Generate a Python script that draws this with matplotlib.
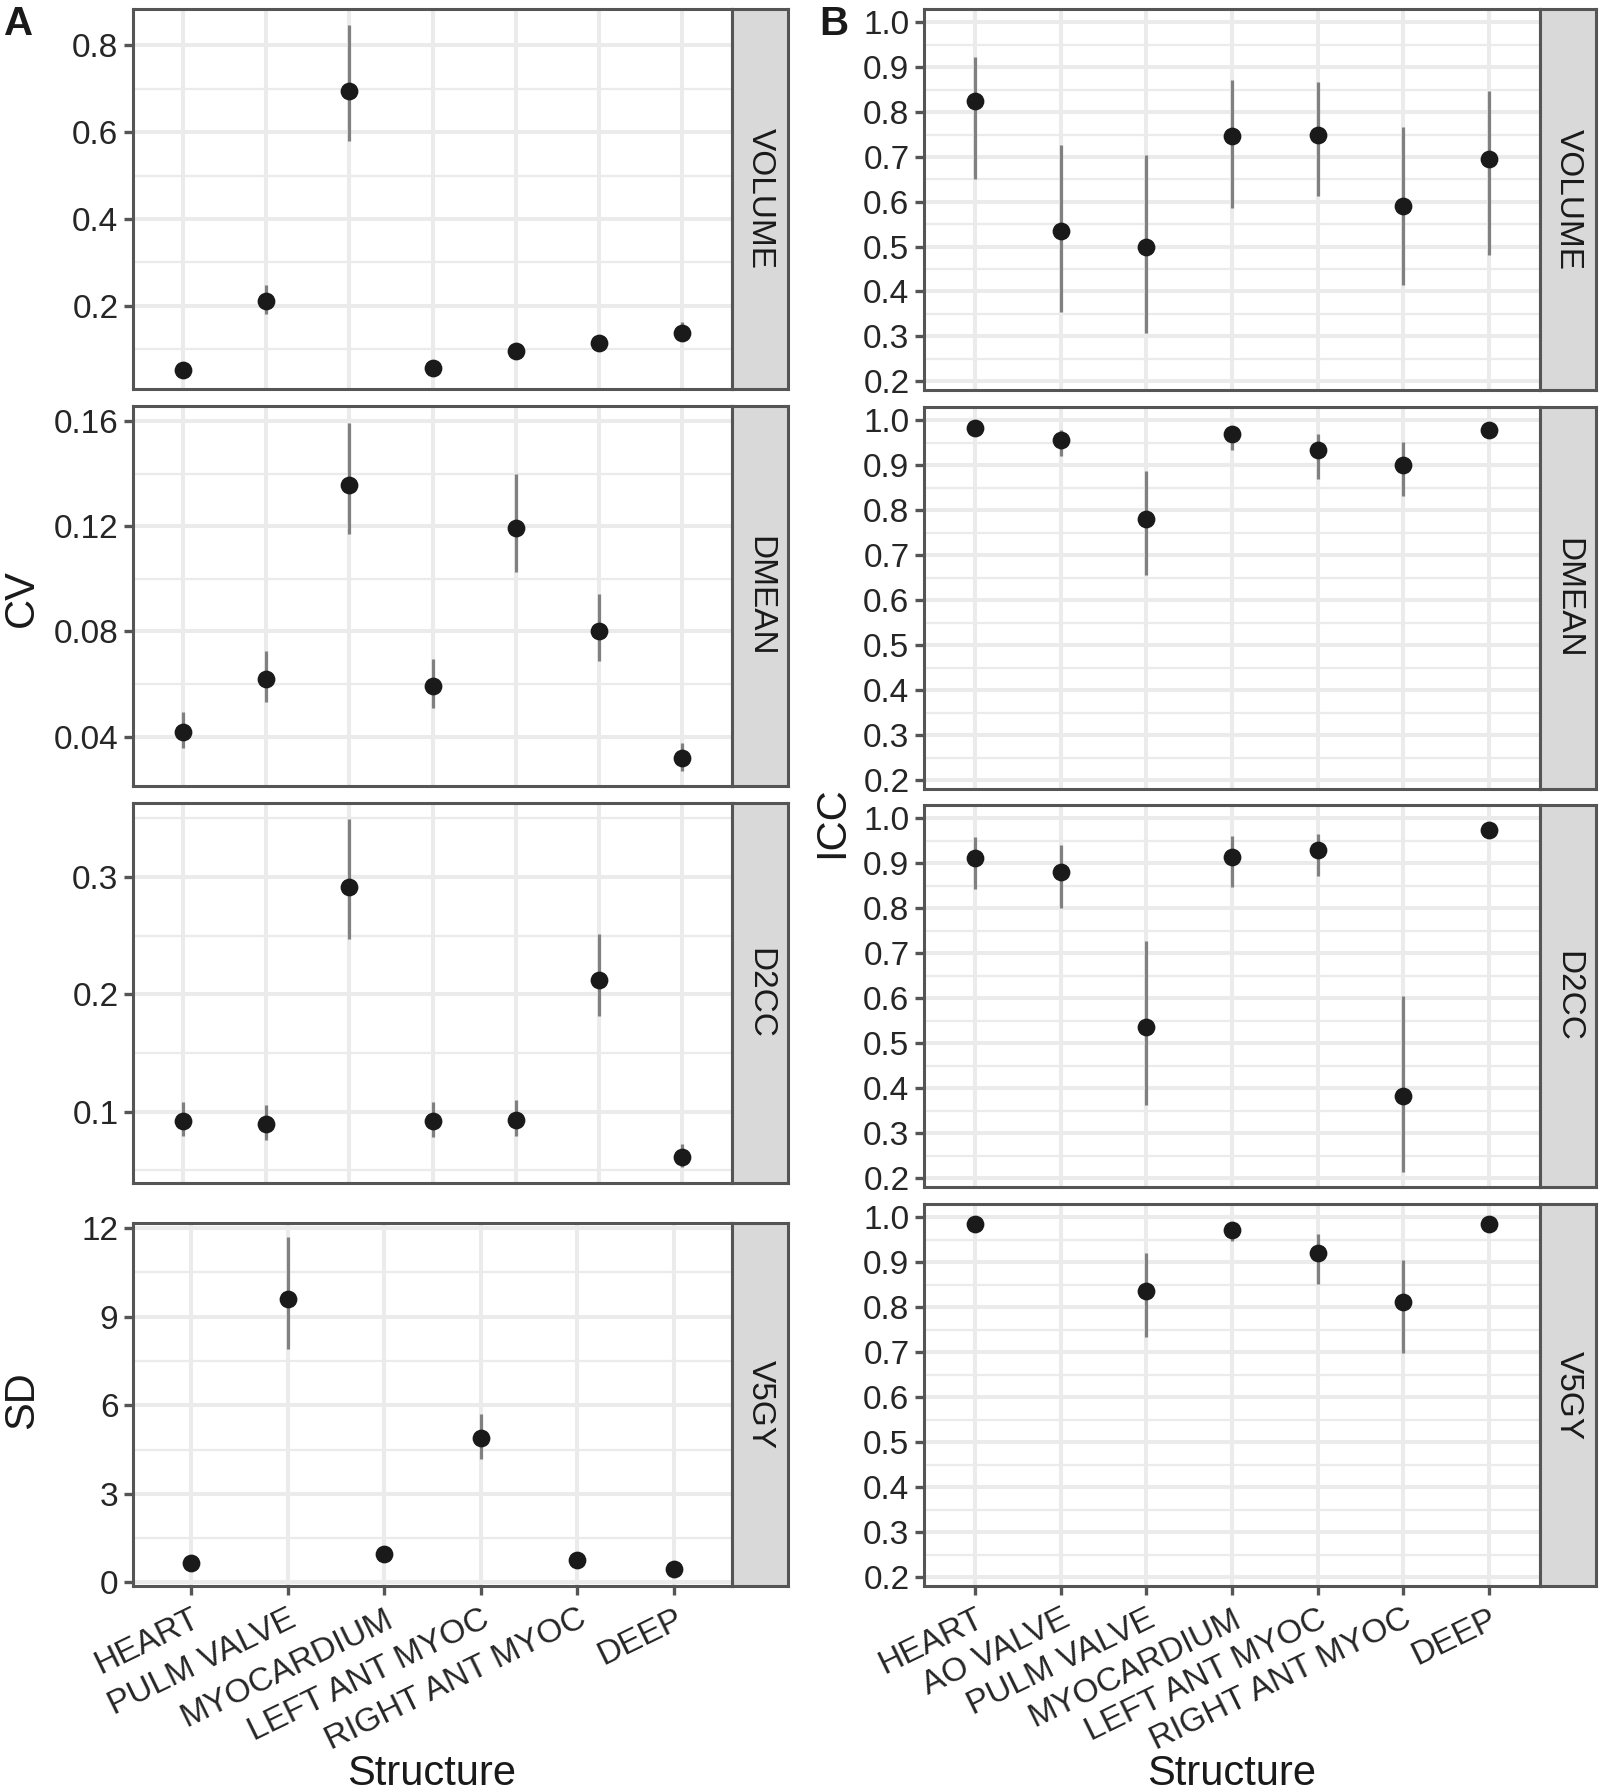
import numpy as np
import matplotlib.pyplot as plt
from matplotlib.ticker import FixedLocator

plt.rcParams['font.family'] = ['Liberation Sans', 'DejaVu Sans']

# ---- data ----
structures = ["HEART", "AO VALVE", "PULM VALVE", "MYOCARDIUM",
              "LEFT ANT MYOC", "RIGHT ANT MYOC", "DEEP"]
structures_sd = ["HEART", "PULM VALVE", "MYOCARDIUM",
                 "LEFT ANT MYOC", "RIGHT ANT MYOC", "DEEP"]
metrics = ["VOLUME", "DMEAN", "D2CC", "V5GY"]

# panel A: CV (VOLUME, DMEAN, D2CC) over 7 structures
cv_volume = [0.052, 0.212, 0.694, 0.056, 0.096, 0.113, 0.138]
cv_volume_lo = [0.047, 0.181, 0.580, 0.050, 0.088, 0.104, 0.120]
cv_volume_hi = [0.057, 0.248, 0.848, 0.063, 0.105, 0.124, 0.163]

cv_dmean = [0.0418, 0.0617, 0.1355, 0.0593, 0.1192, 0.0801, 0.0317]
cv_dmean_lo = [0.0358, 0.0530, 0.1171, 0.0507, 0.1025, 0.0686, 0.0270]
cv_dmean_hi = [0.0493, 0.0726, 0.1594, 0.0695, 0.1399, 0.0942, 0.0375]

cv_d2cc = [0.0923, 0.0895, 0.2915, 0.0918, 0.0932, 0.2119, 0.0614]
cv_d2cc_lo = [0.079, 0.076, 0.247, 0.078, 0.0795, 0.1813, 0.0526]
cv_d2cc_hi = [0.108, 0.106, 0.349, 0.108, 0.110, 0.2514, 0.0727]

# panel A: SD for V5GY over 6 structures
sd_v5gy = [0.65, 9.60, 0.96, 4.88, 0.77, 0.46]
sd_v5gy_lo = [0.55, 7.92, 0.85, 4.17, 0.66, 0.38]
sd_v5gy_hi = [0.75, 11.68, 1.07, 5.71, 0.88, 0.55]

# panel B: ICC over 7 structures
icc_volume = [0.825, 0.535, 0.500, 0.747, 0.749, 0.590, 0.695]
icc_volume_lo = [0.651, 0.353, 0.308, 0.587, 0.612, 0.414, 0.481]
icc_volume_hi = [0.922, 0.727, 0.705, 0.872, 0.868, 0.767, 0.848]

icc_dmean = [0.983, 0.956, 0.781, 0.969, 0.934, 0.901, 0.978]
icc_dmean_lo = [0.975, 0.922, 0.656, 0.934, 0.870, 0.831, 0.970]
icc_dmean_hi = [0.990, 0.978, 0.888, 0.986, 0.971, 0.952, 0.985]

icc_d2cc = [0.912, 0.880, 0.536, 0.914, 0.929, 0.383, 0.975]
icc_d2cc_lo = [0.844, 0.800, 0.363, 0.848, 0.871, 0.214, 0.965]
icc_d2cc_hi = [0.958, 0.941, 0.727, 0.961, 0.965, 0.605, 0.985]

icc_v5gy = [0.986, np.nan, 0.837, 0.972, 0.920, 0.811, 0.985]
icc_v5gy_lo = [0.980, np.nan, 0.734, 0.948, 0.853, 0.699, 0.978]
icc_v5gy_hi = [0.992, np.nan, 0.920, 0.985, 0.963, 0.906, 0.991]

# ---- styling ----
W, H = 1600, 1792
BORDER = '#555555'
GRID = '#EBEBEB'
TXT = '#262626'

fig = plt.figure(figsize=(W / 100, H / 100), dpi=100)
fig.patch.set_facecolor('white')


def box(x0, y0, x1, y1):
    return [x0 / W, 1 - y1 / H, (x1 - x0) / W, (y1 - y0) / H]


def panel(px, py, cats, est, lo, hi, ylim, major, minor, fmt,
          strip, show_x):
    ax = fig.add_axes(box(px[0], py[0], px[1], py[1]))
    x = np.arange(1, len(cats) + 1)
    ax.vlines(x, lo, hi, color='#808080', lw=2.3, zorder=3)
    ax.plot(x, est, 'o', color='#1a1a1a', ms=12.8, mew=0, zorder=4)
    ax.set_xlim(0.4, len(cats) + 0.6)
    ax.set_ylim(*ylim)
    ax.yaxis.set_major_locator(FixedLocator(major))
    ax.yaxis.set_minor_locator(FixedLocator(minor))
    ax.set_yticklabels([fmt.format(v) for v in major])
    ax.set_xticks(x)
    ax.set_axisbelow(True)
    ax.grid(which='major', color=GRID, lw=2.9)
    ax.grid(which='minor', axis='y', color=GRID, lw=1.6)
    for s in ax.spines.values():
        s.set_color(BORDER)
        s.set_linewidth(2.2)
    ax.tick_params(axis='y', which='major', length=6.5, width=2.4,
                   color=BORDER, labelsize=24, labelcolor=TXT, pad=4)
    ax.tick_params(axis='y', which='minor', length=0)
    if show_x:
        ax.set_xticklabels(cats, rotation=26, ha='right', va='top',
                           rotation_mode='anchor')
        ax.tick_params(axis='x', length=6.5, width=2.4, color=BORDER,
                       labelsize=24, labelcolor=TXT, pad=6)
    else:
        ax.tick_params(axis='x', length=0, labelbottom=False)
    # facet strip on the right
    sx = fig.add_axes(box(px[1], py[0], px[1] + 56, py[1]))
    sx.set_facecolor('#D9D9D9')
    sx.set_xticks([])
    sx.set_yticks([])
    for s in sx.spines.values():
        s.set_color(BORDER)
        s.set_linewidth(2.2)
    sx.text(0.5, 0.5, strip, rotation=-90, ha='center', va='center',
            fontsize=24, color='#1a1a1a', transform=sx.transAxes)
    return ax


# ---- panel A ----
ax_l = (133, 732)
rows_l = [(9, 389), (406, 786), (803, 1183), (1223, 1586)]
panel(ax_l, rows_l[0], structures, cv_volume, cv_volume_lo, cv_volume_hi,
      (0.008, 0.884), [0.2, 0.4, 0.6, 0.8], [0.1, 0.3, 0.5, 0.7],
      '{:.1f}', metrics[0], False)
panel(ax_l, rows_l[1], structures, cv_dmean, cv_dmean_lo, cv_dmean_hi,
      (0.0212, 0.1657), [0.04, 0.08, 0.12, 0.16], [0.06, 0.10, 0.14],
      '{:.2f}', metrics[1], False)
panel(ax_l, rows_l[2], structures, cv_d2cc, cv_d2cc_lo, cv_d2cc_hi,
      (0.0392, 0.363), [0.1, 0.2, 0.3], [0.05, 0.15, 0.25, 0.35],
      '{:.1f}', metrics[2], False)
panel(ax_l, rows_l[3], structures_sd, sd_v5gy, sd_v5gy_lo, sd_v5gy_hi,
      (-0.12, 12.17), [0, 3, 6, 9, 12], [1.5, 4.5, 7.5, 10.5],
      '{:.0f}', metrics[3], True)

# ---- panel B ----
ax_r = (924, 1540)
rows_r = [(9, 390), (407, 789), (805, 1187), (1204, 1586)]
icc_major = [0.2, 0.3, 0.4, 0.5, 0.6, 0.7, 0.8, 0.9, 1.0]
icc_minor = [0.25, 0.35, 0.45, 0.55, 0.65, 0.75, 0.85, 0.95]
icc_sets = [(icc_volume, icc_volume_lo, icc_volume_hi),
            (icc_dmean, icc_dmean_lo, icc_dmean_hi),
            (icc_d2cc, icc_d2cc_lo, icc_d2cc_hi),
            (icc_v5gy, icc_v5gy_lo, icc_v5gy_hi)]
for i, (e, l, h) in enumerate(icc_sets):
    panel(ax_r, rows_r[i], structures, e, l, h, (0.18, 1.03),
          icc_major, icc_minor, '{:.1f}', metrics[i], i == 3)

# ---- titles and labels ----
fig.text(19 / W, 1 - 24 / H, 'A', fontsize=29, fontweight='bold',
         ha='center', va='center', color='#1a1a1a')
fig.text(834 / W, 1 - 24 / H, 'B', fontsize=29, fontweight='bold',
         ha='center', va='center', color='#1a1a1a')
fig.text(22 / W, 1 - 598 / H, 'CV', fontsize=30, rotation=90,
         ha='center', va='center', color='#1a1a1a')
fig.text(22 / W, 1 - 1400 / H, 'SD', fontsize=30, rotation=90,
         ha='center', va='center', color='#1a1a1a')
fig.text(832 / W, 1 - 822 / H, 'ICC', fontsize=30, rotation=90,
         ha='center', va='center', color='#1a1a1a')
fig.text(432 / W, 1 - 1774 / H, 'Structure', fontsize=30,
         ha='center', va='center', color='#1a1a1a')
fig.text(1232 / W, 1 - 1774 / H, 'Structure', fontsize=30,
         ha='center', va='center', color='#1a1a1a')

fig.savefig('out.png', dpi=100)
